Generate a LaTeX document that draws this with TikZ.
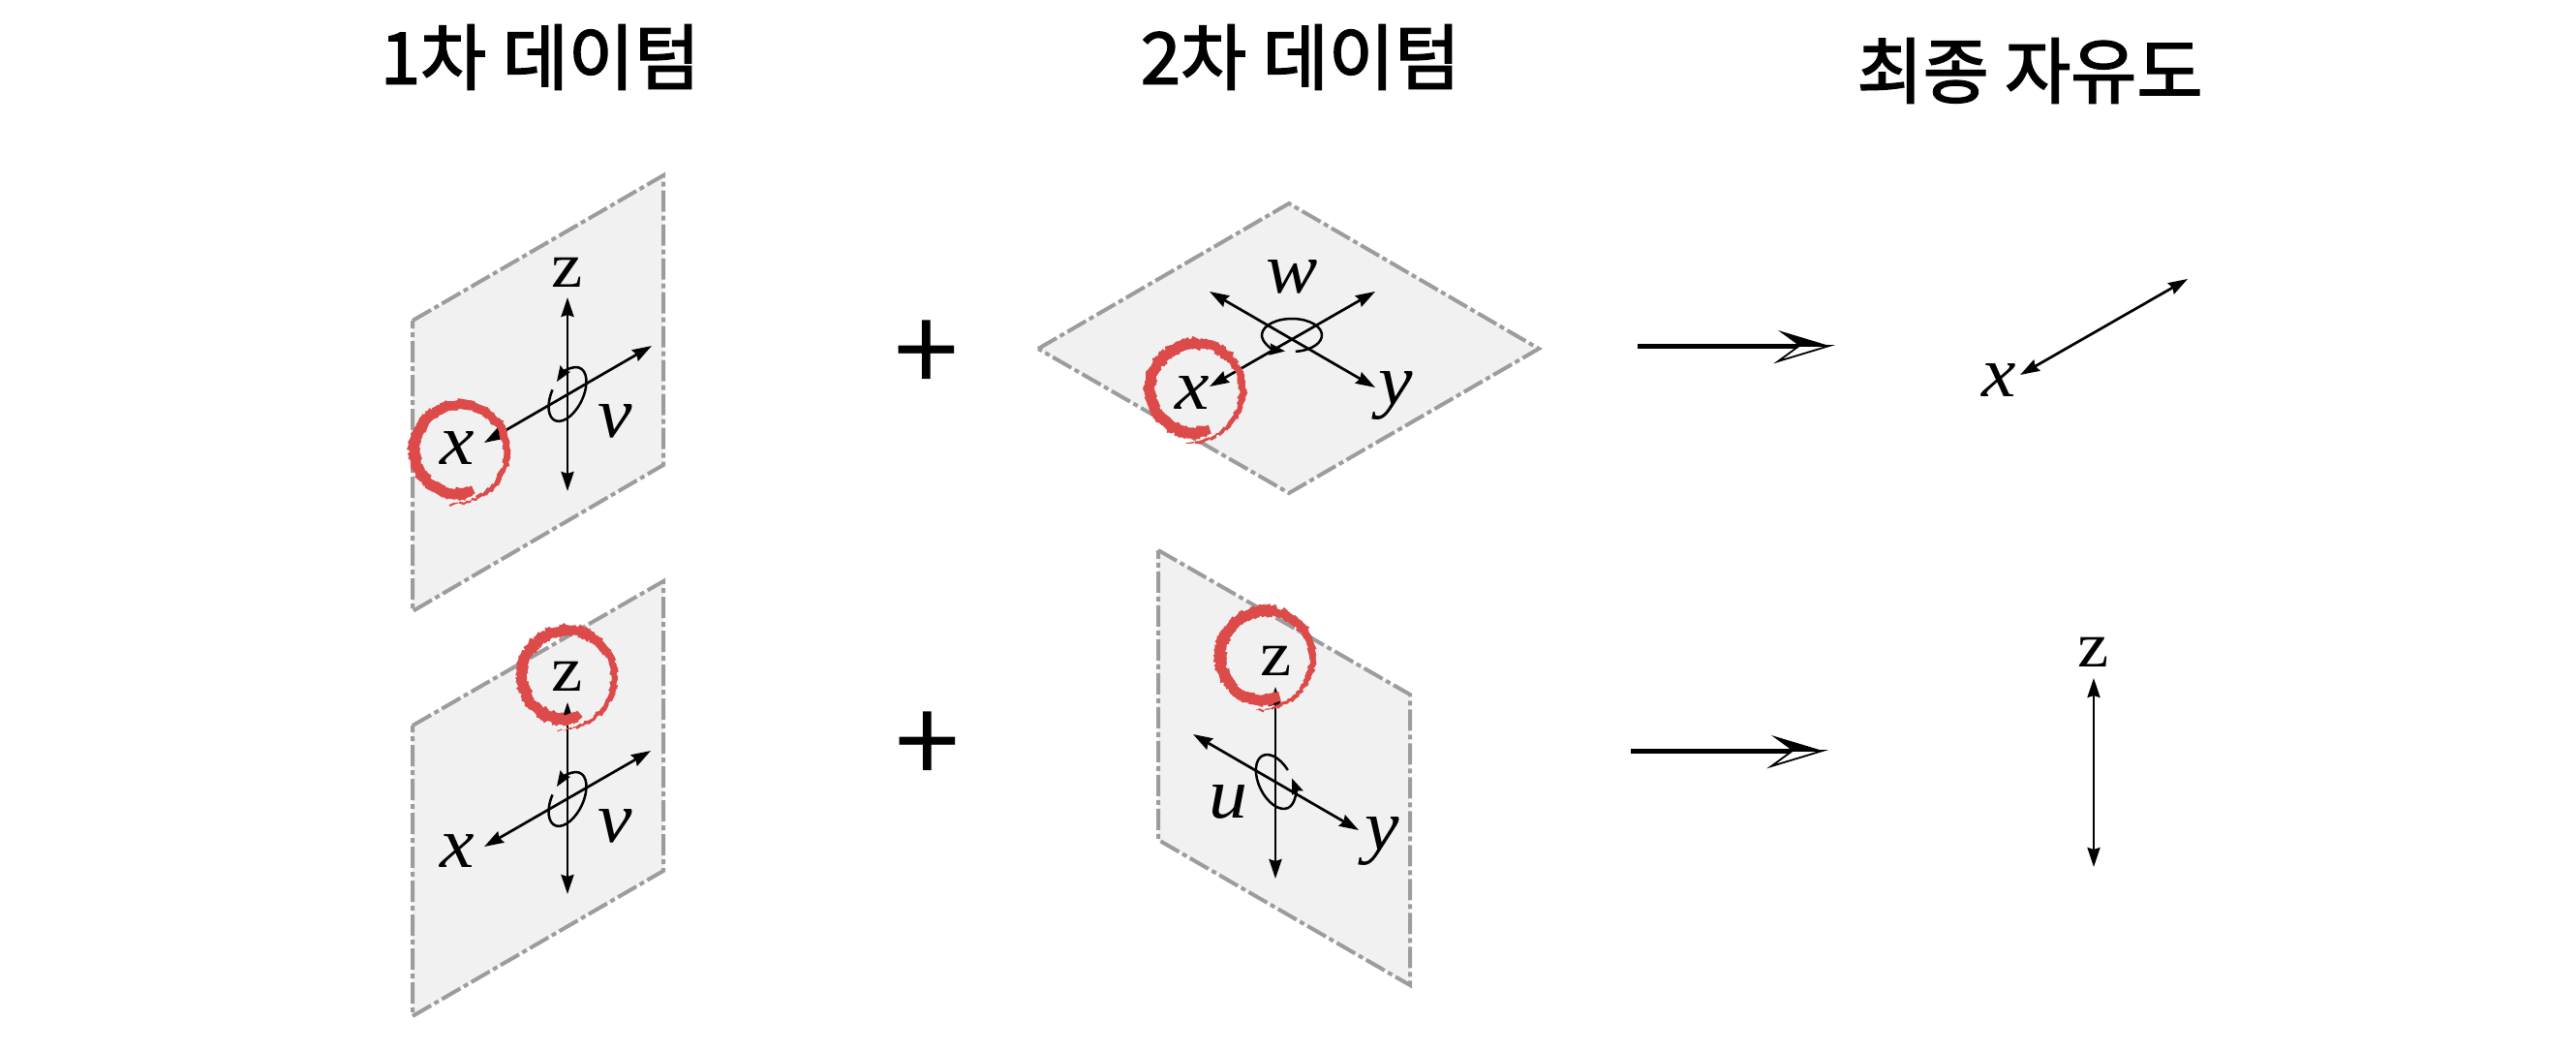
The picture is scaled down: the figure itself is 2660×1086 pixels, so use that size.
\documentclass[tikz,border=0pt]{standalone}
\usepackage{fontspec}
\setmainfont{Liberation Serif}
\newfontfamily\kr[FakeBold=2.2]{Noto Sans CJK KR}
\newfontfamily\krplain{Noto Sans CJK KR}
\usetikzlibrary{arrows.meta}
\definecolor{planefill}{HTML}{F1F1F1}
\definecolor{planeline}{HTML}{9C9C9C}
\definecolor{redmark}{HTML}{DC4A4A}
\tikzset{
  x=0.5pt,y=-0.5pt,
  plane/.style={fill=planefill,draw=planeline,line width=2pt,line join=miter,dash pattern=on 11pt off 2pt on 2.5pt off 2pt},
  axis/.style={line width=1.35pt,{Stealth[length=10pt,width=6.5pt,inset=1pt]}-{Stealth[length=10pt,width=6.5pt,inset=1pt]}},
  spin/.style={line width=1.25pt,-{Stealth[length=8pt,width=6pt,inset=1pt]}},
  lab/.style={inner sep=0pt,font=\fontsize{37}{37}\selectfont\itshape,xscale=1.08},
  labz/.style={inner sep=0pt,font=\fontsize{33}{33}\selectfont,xscale=1.1},
  title/.style={inner sep=0pt,font=\fontsize{37}{37}\selectfont\kr},
  plus/.style={inner sep=0pt,font=\fontsize{60}{60}\selectfont\krplain},
}
\newcommand{\redspiral}[2]{%
  \foreach \i [remember=\px as \qx (initially 0),remember=\py as \qy (initially 0)] in {0,...,110}{%
    \pgfmathsetmacro{\tt}{\i/110}%
    \pgfmathsetmacro{\ang}{77+383*\tt}%
    \pgfmathsetmacro{\rad}{47.5-4*(1-\tt)^8+9*\tt^8+1.1*rand}%
    \pgfmathsetmacro{\wid}{(9.5-8.5*(max(\tt-0.45,0)/0.55)^1.3+1.4*rand)*0.5}%
    \pgfmathsetmacro{\px}{#1+\rad*cos(\ang)}%
    \pgfmathsetmacro{\py}{#2+\rad*sin(\ang)}%
    \ifnum\i>0
      \draw[redmark,line cap=rect,line width=\wid pt] (\qx,\qy) -- (\px,\py);
    \fi
  }%
}
\begin{document}
\begin{tikzpicture}
\pgfmathsetseed{7}
\useasboundingbox (0,0) rectangle (2660,1086);
% titles
\node[title] (t1) at (558,59) {1차 데이텀};
\node[title] (t2) at (1343,59) {2차 데이텀};
\node[title] (t3) at (2096,73) {최종 자유도};
% plane 1
\draw[plane] (426,331) -- (685,181) -- (685,480) -- (426,631) -- cycle;
\coordinate (a1t) at (586,307); \coordinate (a1b) at (586,507);
\coordinate (a1r) at (673,357); \coordinate (a1l) at (500,457);
\coordinate (c1) at (586,407);
\draw[axis] (a1t) -- (a1b);
\draw[axis] (a1r) -- (a1l);
\draw[spin,shift={(c1)},rotate=64] (95:15pt and 8pt) arc[start angle=95,end angle=437,x radius=15pt,y radius=8pt];
\node[labz] (z1) at (586,281) {z};
\node[lab] (x1) at (472,463) {x};
\node[lab] (v1) at (635,435) {v};
% plane 2
\draw[plane] (1072,360) -- (1331,210) -- (1589,360) -- (1331,509) -- cycle;
\coordinate (a2a) at (1420,301); \coordinate (a2b) at (1249,399);
\coordinate (a2c) at (1249,301); \coordinate (a2d) at (1420,400);
\coordinate (c2) at (1334,346);
\draw[axis] (a2a) -- (a2b);
\draw[axis] (a2c) -- (a2d);
\draw[spin,shift={(c2)}] (277:15.5pt and 8.5pt) arc[start angle=277,end angle=617,x radius=15.5pt,y radius=8.5pt];
\node[lab] (w2) at (1334,286) {w};
\node[lab] (x2) at (1231,406) {x};
\node[lab] (y2) at (1441,408) {y};
% plane 3
\draw[plane] (426,749) -- (685,600) -- (685,899) -- (426,1049) -- cycle;
\coordinate (a3t) at (586,725); \coordinate (a3b) at (586,923);
\coordinate (a3r) at (672,775); \coordinate (a3l) at (500,874);
\coordinate (c3) at (586,825);
\draw[axis] (a3t) -- (a3b);
\draw[axis] (a3r) -- (a3l);
\draw[spin,shift={(c3)},rotate=64] (95:15pt and 8pt) arc[start angle=95,end angle=437,x radius=15pt,y radius=8pt];
\node[labz] (z3) at (586,698) {z};
\node[lab] (x3) at (472,879) {x};
\node[lab] (v3) at (635,853) {v};
% plane 4
\draw[plane] (1196,568) -- (1456,717) -- (1456,1017) -- (1196,867) -- cycle;
\coordinate (a4t) at (1317,709); \coordinate (a4b) at (1317,907);
\coordinate (a4l) at (1232,758); \coordinate (a4r) at (1403,857);
\coordinate (c4) at (1317,807);
\draw[axis] (a4t) -- (a4b);
\draw[axis] (a4l) -- (a4r);
\draw[spin,shift={(c4)},rotate=-64] (100:15pt and 8.5pt) arc[start angle=100,end angle=442,x radius=15pt,y radius=8.5pt];
\node[labz] (z4) at (1318,682) {z};
\node[lab] (u4) at (1268,828) {u};
\node[lab] (y4) at (1427,868) {y};
% red marks
\redspiral{475}{465}
\redspiral{1235}{402}
\redspiral{586}{698}
\redspiral{1307}{678}
% plus signs
\node[plus] (p1) at (957,368) {+};
\node[plus] (p2) at (958,772) {+};
% big arrows
\coordinate (b1s) at (1691,357); \coordinate (b1n) at (1858,357); \coordinate (b1e) at (1889,357);
\coordinate (b1u) at (1836,341); \coordinate (b1d) at (1836,373);
\draw[line width=2.5pt] (b1s) -- (b1n);
\draw[line width=0.9pt,fill=white,line join=miter] (b1n) -- (b1d) -- (b1e) -- cycle;
\fill (b1n) -- (b1u) -- (b1e) -- cycle;
\coordinate (b2s) at (1684,775); \coordinate (b2n) at (1851,775); \coordinate (b2e) at (1882,775);
\coordinate (b2u) at (1829,759); \coordinate (b2d) at (1829,791);
\draw[line width=2.5pt] (b2s) -- (b2n);
\draw[line width=0.9pt,fill=white,line join=miter] (b2n) -- (b2d) -- (b2e) -- cycle;
\fill (b2n) -- (b2u) -- (b2e) -- cycle;
% results
\coordinate (f1a) at (2259,288); \coordinate (f1b) at (2086,387);
\draw[axis] (f1a) -- (f1b);
\node[lab] (xf) at (2064,393) {x};
\coordinate (f2a) at (2162,700); \coordinate (f2b) at (2162,895);
\draw[axis] (f2a) -- (f2b);
\node[labz] (zf) at (2162,673) {z};
\end{tikzpicture}
\end{document}
